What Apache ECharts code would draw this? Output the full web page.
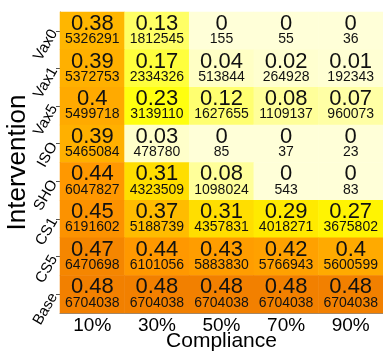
<!DOCTYPE html>
<html>
<head>
<meta charset="utf-8">
<script src="https://cdn.jsdelivr.net/npm/echarts@6/dist/echarts.min.js"></script>
<style>
  html, body { margin: 0; padding: 0; background: #ffffff; }
  #chart { width: 383px; height: 351px; }
</style>
</head>
<body>
<div id="chart"></div>
<script>
// Compliance levels along the bottom
const compliance = ['10%', '30%', '50%', '70%', '90%'];
// Interventions, listed from the top row down
const interventions = ['Vax0', 'Vax1', 'Vax5', 'ISO', 'SHO', 'CS1', 'CS5', 'Base'];

// Proportion per cell (rows follow `interventions`, columns follow `compliance`)
const propVax0 = [0.38, 0.13, 0, 0, 0];
const propVax1 = [0.39, 0.17, 0.04, 0.02, 0.01];
const propVax5 = [0.4, 0.23, 0.12, 0.08, 0.07];
const propISO  = [0.39, 0.03, 0, 0, 0];
const propSHO  = [0.44, 0.31, 0.08, 0, 0];
const propCS1  = [0.45, 0.37, 0.31, 0.29, 0.27];
const propCS5  = [0.47, 0.44, 0.43, 0.42, 0.4];
const propBase = [0.48, 0.48, 0.48, 0.48, 0.48];

// Case counts per cell
const countVax0 = [5326291, 1812545, 155, 55, 36];
const countVax1 = [5372753, 2334326, 513844, 264928, 192343];
const countVax5 = [5499718, 3139110, 1627655, 1109137, 960073];
const countISO  = [5465084, 478780, 85, 37, 23];
const countSHO  = [6047827, 4323509, 1098024, 543, 83];
const countCS1  = [6191602, 5188739, 4357831, 4018271, 3675802];
const countCS5  = [6470698, 6101056, 5883830, 5766943, 5600599];
const countBase = [6704038, 6704038, 6704038, 6704038, 6704038];

const propRows = [propVax0, propVax1, propVax5, propISO, propSHO, propCS1, propCS5, propBase];
const countRows = [countVax0, countVax1, countVax5, countISO, countSHO, countCS1, countCS5, countBase];

const cells = [];
interventions.forEach((name, r) => {
  compliance.forEach((c, k) => {
    cells.push([k, r, propRows[r][k], countRows[r][k]]);
  });
});

const FONT = '"Liberation Sans", Arial, sans-serif';
const chart = echarts.init(document.getElementById('chart'), null, { renderer: 'canvas' });

chart.setOption({
  animation: false,
  backgroundColor: '#ffffff',
  grid: { left: 60, right: 0, top: 12, bottom: 38, outerBoundsMode: 'none', containLabel: false },
  xAxis: {
    type: 'category',
    data: compliance,
    name: 'Compliance',
    nameLocation: 'middle',
    nameGap: 18,
    nameMoveOverlap: false,
    nameTextStyle: { fontFamily: FONT, fontSize: 21, color: '#000' },
    axisLine: { show: true, lineStyle: { color: '#888', width: 1 } },
    axisTick: { show: false },
    axisLabel: { fontFamily: FONT, fontSize: 19, color: '#000', margin: 3, interval: 0 },
    splitArea: { show: false }
  },
  yAxis: {
    type: 'category',
    data: interventions,
    inverse: true,
    name: 'Intervention',
    nameLocation: 'middle',
    nameGap: 29,
    nameMoveOverlap: false,
    nameTextStyle: { fontFamily: FONT, fontSize: 26, color: '#000' },
    axisLine: { show: true, lineStyle: { color: '#888', width: 1 } },
    axisTick: { show: true, alignWithLabel: true, length: 4, lineStyle: { color: '#555' } },
    axisLabel: { fontFamily: FONT, fontSize: 15, color: '#000', rotate: 60, margin: 6, interval: 0 }
  },
  visualMap: {
    show: false,
    type: 'continuous',
    dimension: 2,
    min: 0,
    max: 0.48,
    inRange: {
      color: ['#FFFFD8', '#FFFFC5', '#FFFF9A', '#FFFF70', '#FFFF45', '#FFFF22', '#FFFF08',
              '#FFF000', '#FFD800', '#FFC200', '#FFAA00', '#FF9800', '#F28000']
    }
  },
  series: [{
    type: 'heatmap',
    data: cells,
    itemStyle: { borderWidth: 0 },
    label: {
      show: true,
      formatter: p => '{a|' + p.value[2] + '}\n{b|' + p.value[3] + '}',
      rich: {
        a: { fontFamily: FONT, fontSize: 22, lineHeight: 19, color: '#111' },
        b: { fontFamily: FONT, fontSize: 14, lineHeight: 12, color: '#111' }
      },
      offset: [0, -1]
    }
  }]
});
</script>
</body>
</html>
